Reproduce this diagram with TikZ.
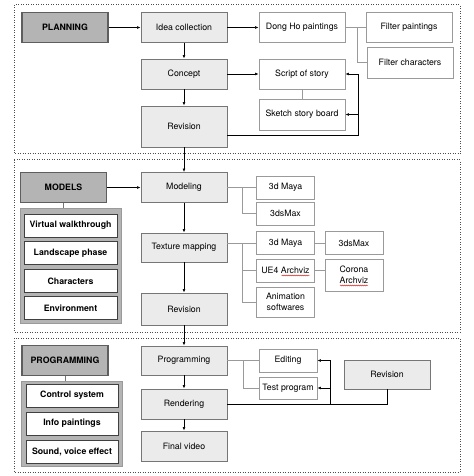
\documentclass[tikz,border=0pt]{standalone}
\usepackage{fontspec}
\setmainfont{TeX Gyre Heros}
\usetikzlibrary{arrows.meta,calc,decorations.pathmorphing}
\definecolor{boxgray}{HTML}{EBEBEB}
\definecolor{hdrgray}{HTML}{B4B4B4}
\definecolor{edgegray}{HTML}{767676}
\definecolor{linegray}{HTML}{9A9A9A}

\begin{document}
\begin{tikzpicture}[x=1bp,y=-1bp,
	every node/.style={font=\fontsize{8.8}{11}\selectfont,inner sep=1pt},
	box/.style={draw=edgegray,fill=boxgray,line width=0.9bp,minimum width=86bp,minimum height=30bp},
	hdr/.style={draw=edgegray!80!black,fill=hdrgray,line width=1.1bp,minimum width=86bp,minimum height=30bp,font=\fontsize{8.8}{11}\selectfont\bfseries},
	side/.style={draw=linegray,fill=white,line width=0.8bp,minimum width=58bp,minimum height=23bp,align=center},
	item/.style={draw=black!75,fill=white,line width=0.8bp,minimum width=93bp,minimum height=23bp,font=\fontsize{8.8}{11}\selectfont\bfseries},
	grp/.style={draw=linegray,fill=hdrgray,line width=1bp},
	sect/.style={draw=black!70,line width=1bp,dash pattern=on 0.9bp off 1.6bp},
	arr/.style={-{Latex[length=3.5bp,width=2.8bp]},line width=0.6bp},
	thin/.style={draw=linegray,line width=0.6bp},
	spell/.style={draw=red!85!black,line width=0.4bp,decorate,decoration={snake,segment length=2bp,amplitude=0.5bp}}]
		\useasboundingbox (0,0) rectangle (474,476);
		\draw[sect] (14,5) rectangle (460,154);
		\draw[sect] (14,160) rectangle (460,332);
		\draw[sect] (14,338) rectangle (460,472);

		\node[hdr] (plan) at (65,27.5) {PLANNING};
		\node[box] (idea) at (184,27.5) {Idea collection};
		\node[box] (concept) at (184,74) {Concept};
		\node[box,minimum height=41bp] (rev1) at (184,126.5) {Revision};
		\node[side,minimum width=86bp,minimum height=30bp] (dongho) at (302,27.5) {Dong Ho paintings};
		\node[side,minimum width=86bp,minimum height=30bp] (filtp) at (409,27.5) {Filter paintings};
		\node[side,minimum width=86bp,minimum height=31bp] (filtc) at (410,62.5) {Filter characters};
		\node[side,minimum width=86bp,minimum height=30bp] (script) at (302,74) {Script of story};
		\node[side,minimum width=86bp,minimum height=31bp] (sketch) at (302,114.5) {Sketch story board};

		\node[hdr] (models) at (63.5,187.5) {MODELS};
		\node[grp,minimum width=100bp,minimum height=114bp] (mgrp) at (71,266) {};
		\foreach \name/\y/\txt in {vw/225.5/Virtual walkthrough,lp/253/Landscape phase,ch/281/Characters,env/308/Environment}
			\node[item] (\name) at (70.5,\y) {\txt};
		\node[box] (modeling) at (184,187.5) {Modeling};
		\node[box,minimum height=29bp] (texture) at (184,247.5) {Texture mapping};
		\node[box,minimum height=32bp] (rev2) at (184,309) {Revision};
		\node[side] (maya1) at (285.5,187.5) {3d Maya};
		\node[side] (max1) at (285.5,213.5) {3dsMax};
		\node[side] (maya2) at (285.5,243) {3d Maya};
		\node[side] (max2) at (354,243) {3dsMax};
		\node[side] (ue4) at (285.5,270.5) {UE4 Archviz};
		\node[side,minimum height=32bp] (corona) at (354,275) {Corona\\Archviz};
		\node[side,minimum height=30bp] (anim) at (285.5,302) {Animation\\softwares};
		\draw[spell] ($(ue4.center)+(-4,5)$) -- ($(ue4.center)+(24,5)$);
		\draw[spell] ($(corona.center)+(-14,10.5)$) -- ($(corona.center)+(14,10.5)$);

		\node[hdr] (prog) at (65,360.5) {PROGRAMMING};
		\node[grp,minimum width=100bp,minimum height=85bp] (pgrp) at (72,423.5) {};
		\foreach \name/\y/\txt in {cs/395.5/Control system,ip/423.5/Info paintings,sv/451.5/{Sound, voice effect}}
			\node[item,minimum width=92bp] (\name) at (72,\y) {\txt};
		\node[box,minimum height=29bp] (programming) at (184,360.5) {Programming};
		\node[box] (rendering) at (184,404) {Rendering};
		\node[box] (final) at (184,446) {Final video};
		\node[side] (editing) at (288,360.5) {Editing};
		\node[side,minimum height=22bp] (test) at (288,388) {Test program};
		\node[box,minimum height=29bp] (rev3) at (387,374.5) {Revision};

		\draw[arr] (plan) -- (idea);
		\draw[arr] (idea) -- (dongho);
		\draw[arr] (concept) -- (script);
		\draw[arr] (idea) -- (concept);
		\draw[arr] (concept) -- (rev1);
		\draw[arr] (rev1) -- (modeling);
		\draw[thin] (dongho) -- (filtp);
		\coordinate (db) at (357,0);
		\draw[thin] (db |- dongho.east) |- (filtc.west);
		\draw[thin] (script) -- (sketch);
		\coordinate (rc) at (358,135);
		\draw[arr] (rev1.east |- rc) -- (rc) |- (script.east);
		\draw[arr] (rc |- sketch.east) -- (sketch.east);

		\draw[arr] (models) -- (modeling);
		\draw[line width=0.8bp,draw=edgegray] (models.south) -- (models.south |- mgrp.north);
		\draw[arr] (modeling) -- (texture);
		\draw[arr] (texture) -- (rev2);
		\draw[arr] (rev2) -- (programming);
		\coordinate (mb) at (242,0);
		\draw[thin] (modeling) -- (maya1);
		\draw[thin] (mb |- maya1.west) |- (max1.west);
		\draw[thin] (texture.east |- maya2.west) -- (maya2.west);
		\draw[thin] (mb |- maya2.west) |- (anim.west);
		\draw[thin] (mb |- ue4.west) -- (ue4.west);
		\draw[thin] (maya2) -- (max2);
		\draw[thin] (ue4.east) -- (ue4.east -| corona.west);

		\draw[line width=0.8bp,draw=edgegray] (prog.south) -- (prog.south |- pgrp.north);
		\draw[arr] (programming) -- (rendering);
		\draw[arr] (rendering) -- (final);
		\coordinate (pb) at (243,0);
		\draw[thin] (programming) -- (editing);
		\draw[thin] (pb |- editing.west) |- (test.west);
		\draw[line width=0.6bp] (rev3.south) |- (rendering.east);
		\coordinate (rv) at (330,404);
		\draw[arr] (rv) |- (editing.east);
		\draw[arr] (rv |- test.east) -- (test.east);
	\end{tikzpicture}
\end{document}
